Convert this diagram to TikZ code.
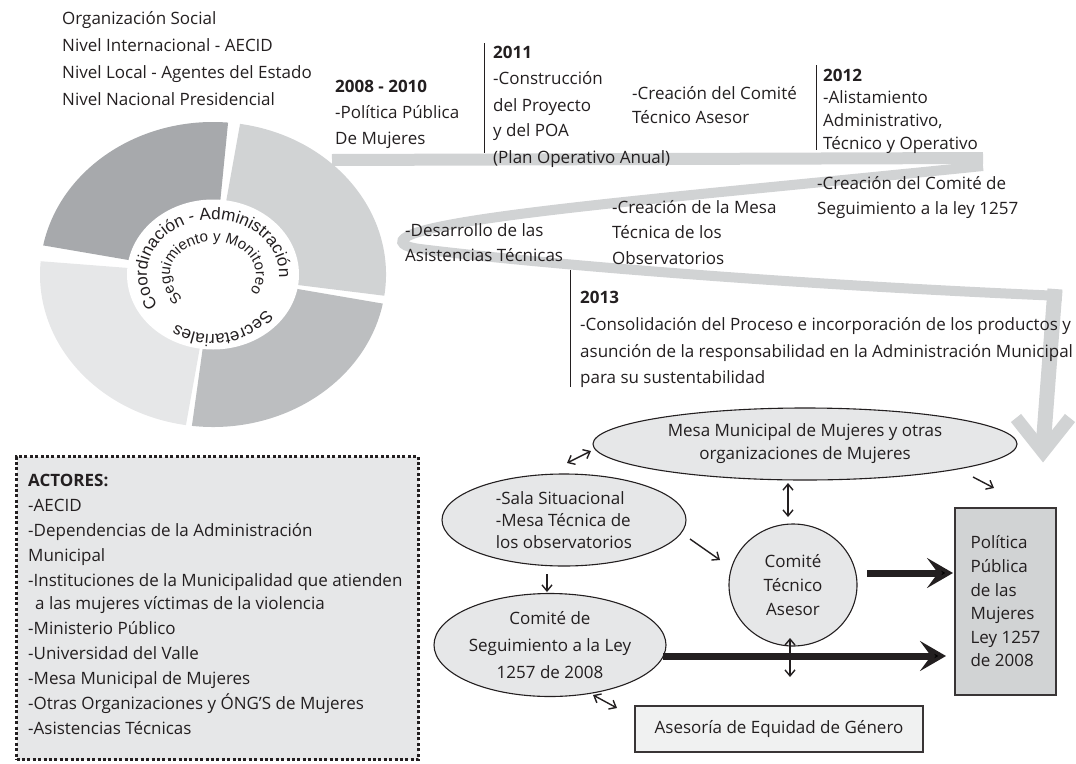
\documentclass[tikz,border=0pt]{standalone}
\usepackage{fontspec}
\setmainfont{Open Sans}
\newfontfamily\arcff{Liberation Sans}
\usetikzlibrary{arrows.meta,shapes.geometric,decorations.text,calc}
\definecolor{txt}{HTML}{231F20}
\definecolor{gA}{HTML}{A7A9AC}
\definecolor{gB}{HTML}{D1D3D4}
\definecolor{gC}{HTML}{BCBEC0}
\definecolor{gD}{HTML}{E6E7E8}
\newcommand\ft{\fontsize{17}{20}\selectfont}
\begin{document}
\begin{tikzpicture}[x=1pt,y=1pt,
 lbl/.style={anchor=base west, inner sep=0pt, font=\ft, text=txt},
 yr/.style={anchor=base west, inner sep=0pt, font=\ft\bfseries, text=txt},
 band/.style={draw=gB, line cap=butt},
 vline/.style={draw=txt, line width=1pt},
 oval/.style={ellipse, draw=txt, line width=1.1pt, fill=gD, inner sep=0pt, text=txt},
 box/.style={rectangle, draw=txt!90, line width=1.5pt, inner sep=0pt, text=txt},
 sm/.style={draw=txt, line width=1.4pt, {Straight Barb[length=6pt,width=10pt]}-{Straight Barb[length=6pt,width=10pt]}},
 smo/.style={draw=txt, line width=1.4pt, -{Straight Barb[length=6pt,width=10pt]}},
 big/.style={draw=txt, line width=7pt, -{Stealth[length=26pt,width=30pt,inset=11pt]}},
 ring/.style={decorate, decoration={text along path, text align=center, text color=txt, text={#1}}}
]
\useasboundingbox (0,0) rectangle (1076,-763);

% ---------- donut ----------
\coordinate (C) at (213,-274.5);
\fill[gA] (C) -- ++(85:173 and 152.5) arc[start angle=85, end angle=169, x radius=173, y radius=152.5] -- cycle;
\fill[gD] (C) -- ++(175:173 and 152.5) arc[start angle=175, end angle=261, x radius=173, y radius=152.5] -- cycle;
\fill[gC] (C) -- ++(263:173 and 152.5) arc[start angle=263, end angle=349, x radius=173, y radius=152.5] -- cycle;
\fill[gB] (C) -- ++(-8:173 and 152.5) arc[start angle=-8, end angle=81, x radius=173, y radius=152.5] -- cycle;
\fill[white] (C) ellipse[x radius=86, y radius=75];

\path[ring={|\arcff\fontsize{17}{17}\selectfont|Coordinación - Administración}, shift={(213,-274.5)}]
  (220:66 and 55) arc[start angle=220, end angle=-10, x radius=66, y radius=55];
\path[ring={|\arcff\fontsize{15}{15}\selectfont|Seguimiento y Monitoreo}, shift={(213,-274.5)}]
  (235:43 and 33) arc[start angle=235, end angle=-41, x radius=43, y radius=33];
\path[ring={|\arcff\fontsize{17}{17}\selectfont|Secretariales}, shift={(213,-274.5)}]
  (-28:65 and 60) arc[start angle=-28, end angle=-132, x radius=65, y radius=60];

% ---------- ribbon ----------
\draw[band, line width=12pt] (332,-160) -- (983,-158);
\draw[band, line width=10pt] (983,-166) .. controls (700,-195) and (450,-215) .. (408,-236)
  .. controls (396,-242) and (404,-247) .. (420,-249)
  .. controls (550,-265) and (800,-285) .. (1062,-296);
\draw[band, line width=15pt] (1055,-289) -- (1043,-448);
\draw[band, line width=13pt, line join=miter] (1016,-418) -- (1043,-452) -- (1070,-418);

% ---------- top-left texts ----------
\node[lbl] (o1) at (62,-24) {Organización Social};
\node[lbl] (o2) at (62,-51) {Nivel Internacional - AECID};
\node[lbl] (o3) at (62,-78) {Nivel Local - Agentes del Estado};
\node[lbl] (o4) at (62,-105) {Nivel Nacional Presidencial};

% ---------- timeline ----------
\node[yr]  (y1) at (335,-92) {2008 - 2010};
\node[lbl] (y1a) at (335,-118) {-Política Pública};
\node[lbl] (y1b) at (335,-144) {De Mujeres};

\draw[vline] (484,-43) -- (484,-153);
\node[yr]  (y2) at (493,-58) {2011};
\node[lbl] (y2a) at (493,-84) {-Construcción};
\node[lbl] (y2b) at (493,-111) {del Proyecto};
\node[lbl] (y2c) at (493,-136) {y del POA};
\node[lbl] (y2d) at (493,-163) {(Plan Operativo Anual)};

\node[lbl] (c1a) at (632,-99) {-Creación del Comité};
\node[lbl] (c1b) at (632,-123) {Técnico Asesor};

\draw[vline] (816,-65) -- (816,-150);
\node[yr]  (y3) at (823,-81) {2012};
\node[lbl] (y3a) at (823,-103) {-Alistamiento};
\node[lbl] (y3b) at (823,-126) {Administrativo,};
\node[lbl] (y3c) at (823,-149) {Técnico y Operativo};

\node[lbl] (c2a) at (817,-189) {-Creación del Comité de};
\node[lbl] (c2b) at (817,-214) {Seguimiento a la ley 1257};

\node[lbl] (d1a) at (405,-236) {-Desarrollo de las};
\node[lbl] (d1b) at (405,-261) {Asistencias Técnicas};

\node[lbl] (m1a) at (612,-213) {-Creación de la Mesa};
\node[lbl] (m1b) at (612,-238) {Técnica de los};
\node[lbl] (m1c) at (612,-264) {Observatorios};

\draw[vline] (570,-270) -- (570,-387);
\node[yr]  (y4) at (580,-303) {2013};
\node[lbl] (y4a) at (580,-330) {-Consolidación del Proceso e incorporación de los productos y};
\node[lbl] (y4b) at (580,-357) {asunción de la responsabilidad en la Administración Municipal};
\node[lbl] (y4c) at (580,-383) {para su sustentabilidad};

% ---------- actores ----------
\node[rectangle, fill=gD, draw=txt, line width=3pt, dash pattern=on 3pt off 2.4pt,
      minimum width=402, minimum height=303, anchor=north west] (actores) at (15,-455) {};
\node[yr]  (ac0) at (28,-486) {ACTORES:};
\node[lbl] (ac1) at (28,-511) {-AECID};
\node[lbl] (ac2) at (28,-536) {-Dependencias de la Administración};
\node[lbl] (ac3) at (28,-561) {Municipal};
\node[lbl] (ac4) at (28,-586) {-Instituciones de la Municipalidad que atienden};
\node[lbl] (ac5) at (35,-609) {a las mujeres víctimas de la violencia};
\node[lbl] (ac6) at (28,-634) {-Ministerio Público};
\node[lbl] (ac7) at (28,-659) {-Universidad del Valle};
\node[lbl] (ac8) at (28,-684) {-Mesa Municipal de Mujeres};
\node[lbl] (ac9) at (28,-709) {-Otras Organizaciones y ÓNG’S de Mujeres};
\node[lbl] (ac10) at (28,-734) {-Asistencias Técnicas};

% ---------- lower diagram ----------
\node[oval, minimum width=424, minimum height=72, align=center, font=\fontsize{17}{23}\selectfont]
  (mesa) at (805,-444) {Mesa Municipal de Mujeres y otras\\organizaciones de Mujeres};
\node[oval, minimum width=244, minimum height=92, align=left, font=\fontsize{17}{22}\selectfont]
  (sala) at (564,-520) {-Sala Situacional\\-Mesa Técnica de\\los observatorios};
\node[oval, minimum width=128, minimum height=122, align=center, font=\fontsize{17}{24}\selectfont]
  (ctec) at (793,-585) {Comité\\Técnico\\Asesor};
\node[oval, minimum width=232, minimum height=103, align=center, font=\fontsize{17}{27}\selectfont]
  (cseg) at (550,-645) {Comité de\\Seguimiento a la Ley\\1257 de 2008};
\node[box, fill=gB, minimum width=101, minimum height=187, align=left, font=\fontsize{17}{23.6}\selectfont]
  (pol) at (1005.5,-601.5) {Política\\Pública\\de las\\Mujeres\\Ley 1257\\de 2008};
\node[box, fill=gD!60, minimum width=288, minimum height=46, font=\ft]
  (ases) at (779,-729) {Asesoría de Equidad de Género};

% connectors
\coordinate (a1s) at (567,-463); \coordinate (a1e) at (591,-451);
\draw[sm] (a1s) -- (a1e);
\coordinate (a2s) at (788,-483); \coordinate (a2e) at (788,-517);
\draw[sm] (a2s) -- (a2e);
\coordinate (a3s) at (690,-539); \coordinate (a3e) at (720,-560);
\draw[smo] (a3s) -- (a3e);
\coordinate (a4s) at (547,-574); \coordinate (a4e) at (547,-592);
\draw[smo] (a4s) -- (a4e);
\coordinate (a5s) at (867,-573); \coordinate (a5e) at (953,-573);
\draw[big] (a5s) -- (a5e);
\coordinate (a6s) at (663,-656); \coordinate (a6e) at (946,-656);
\draw[big] (a6s) -- (a6e);
\coordinate (a7s) at (790,-638); \coordinate (a7e) at (790,-677);
\draw[sm] (a7s) -- (a7e);
\coordinate (a8s) at (593,-695); \coordinate (a8e) at (617,-708);
\draw[sm] (a8s) -- (a8e);
\coordinate (a9s) at (973,-477); \coordinate (a9e) at (994,-488);
\draw[smo] (a9s) -- (a9e);
\end{tikzpicture}
\end{document}
